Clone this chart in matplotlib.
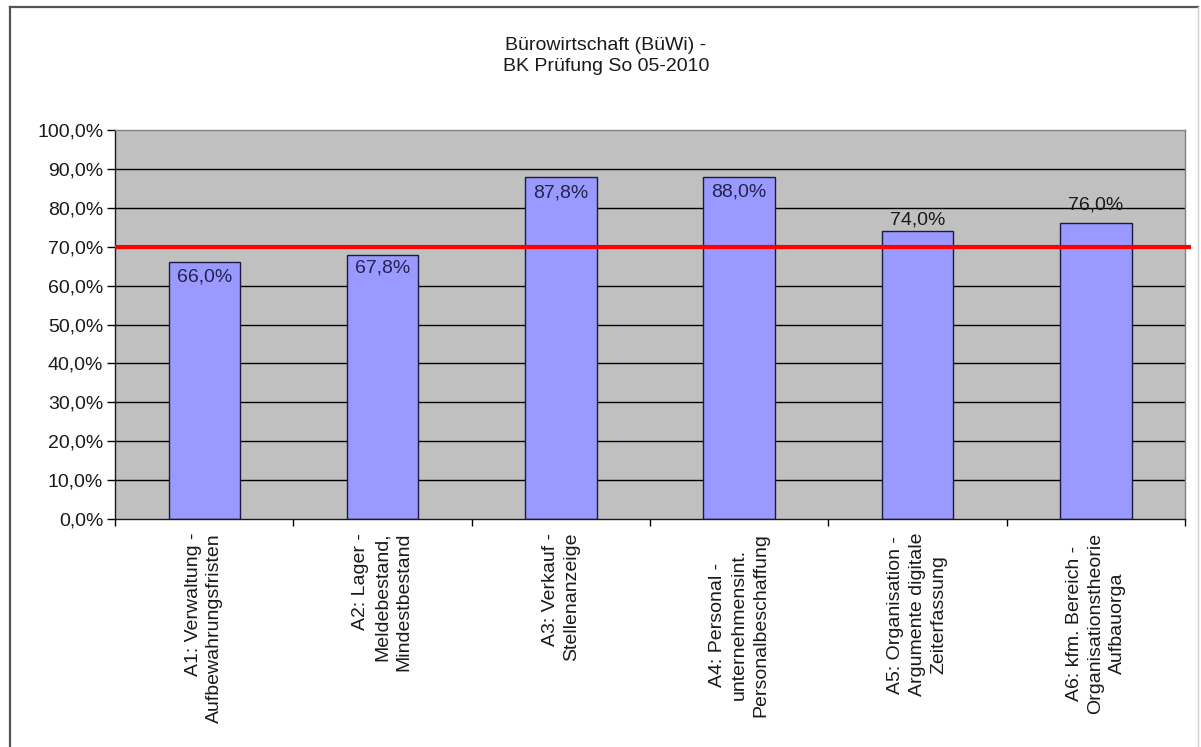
import matplotlib
matplotlib.use("Agg")
from matplotlib import pyplot as plt
from matplotlib.lines import Line2D
import numpy as np

plt.rcParams['font.family'] = ['Liberation Sans', 'DejaVu Sans']

# chart data
title = "Bürowirtschaft (BüWi) -\nBK Prüfung So 05-2010"
categories = [
    "A1: Verwaltung -\nAufbewahrungsfristen",
    "A2: Lager -\nMeldebestand,\nMindestbestand",
    "A3: Verkauf -\nStellenanzeige",
    "A4: Personal -\nunternehmensint.\nPersonalbeschaffung",
    "A5: Organisation -\nArgumente digitale\nZeiterfassung",
    "A6: kfm. Bereich -\nOrganisationstheorie\nAufbauorga",
]
values = [66.0, 67.8, 87.8, 88.0, 74.0, 76.0]
threshold = 70.0
y_ticks = [0, 10, 20, 30, 40, 50, 60, 70, 80, 90, 100]

W, H = 1201, 747
fig = plt.figure(figsize=(W / 100, H / 100), dpi=100)
fig.patch.set_facecolor("white")

# page frame around the chart
fig.add_artist(Line2D([10 / W, 10 / W], [0, 1 - 7 / H], transform=fig.transFigure,
                      color="#555555", lw=1.6))
fig.add_artist(Line2D([10 / W, 1198 / W], [1 - 7 / H, 1 - 7 / H], transform=fig.transFigure,
                      color="#555555", lw=1.6))
fig.add_artist(Line2D([1198 / W, 1198 / W], [0, 1 - 7 / H], transform=fig.transFigure,
                      color="#d0d0d0", lw=1.0))

ax = fig.add_axes([115 / W, 1 - 519 / H, (1185 - 115) / W, (519 - 130) / H])
ax.set_facecolor("#C0C0C0")

x = np.arange(len(values))
ax.set_xlim(-0.5, len(values) - 0.5)
ax.set_ylim(0, 100)

# horizontal gridlines
for t in y_ticks[1:-1]:
    ax.axhline(t, color="black", lw=1.0, zorder=1)

ax.bar(x, values, width=0.4, color="#9999FF", edgecolor="#1a1a40", lw=1.0, zorder=2)

# threshold line reaching a bit past the plot area
ax.plot([-0.5, len(values) - 0.5 + 6 / 178], [threshold, threshold], color="#FF0000",
        lw=3.0, zorder=4, clip_on=False, solid_capstyle="butt")

# value labels (pixel offsets from bar top)
offsets = [-15, -13, -16, -15, 11, 18]
for xi, v, off in zip(x, values, offsets):
    col = "#23234f" if off < 0 else "#1a1a1a"
    ax.annotate(f"{v:.1f}%".replace(".", ","), (xi, v), xytext=(0, off * 0.72),
                textcoords="offset points", ha="center", va="center",
                fontsize=14, color=col, zorder=5)

# y axis
ax.set_yticks(y_ticks)
ax.set_yticklabels([f"{t:.1f}%".replace(".", ",") for t in y_ticks], fontsize=14,
                   color="#1a1a1a")
ax.tick_params(axis="y", direction="out", length=5.5, width=1.0, pad=3)

# x axis: ticks between categories, labels at centres
ax.set_xticks(np.arange(len(values) + 1) - 0.5)
ax.set_xticklabels([])
ax.tick_params(axis="x", which="major", direction="out", length=5, width=1.0)
ax.set_xticks(x, minor=True)
ax.set_xticklabels(categories, minor=True, rotation=90, fontsize=14, color="#1a1a1a",
                   linespacing=1.35)
ax.tick_params(axis="x", which="minor", length=0, pad=10)
for i, lab in enumerate(ax.get_xticklabels(minor=True)):
    lab.set_multialignment("right" if i < 3 else "center")

for side in ["left", "bottom"]:
    ax.spines[side].set_color("#1a1a1a")
    ax.spines[side].set_linewidth(1.0)
for side in ["top", "right"]:
    ax.spines[side].set_color("#808080")
    ax.spines[side].set_linewidth(1.0)

fig.text(606 / W, 1 - 56 / H, title, ha="center", va="center", fontsize=14,
         color="#1a1a1a", linespacing=1.32)

fig.savefig("out.png", dpi=100)
